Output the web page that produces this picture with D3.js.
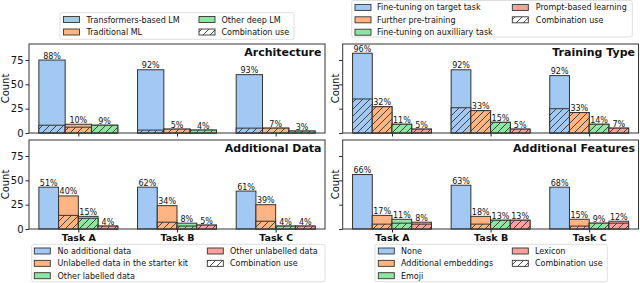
<!DOCTYPE html>
<html><head><meta charset="utf-8">
<script src="https://cdn.jsdelivr.net/npm/d3@7"></script>
<style>body{margin:0;background:#fff}svg{display:block}text{font-family:"DejaVu Sans",sans-serif;fill:#111}</style>
</head><body><svg id="c" width="640" height="283"></svg>
<script>
const tasks = ["Task A","Task B","Task C"];
const yTicks = [0,25,50,75];
const colors = ["#a1c9f4","#ffb482","#8de5a1","#ff9f9b"];

const archSeries = ["Transformers-based LM","Traditional ML","Other deep LM"];
const archTotal = [[75,65,60],[9,4,5],[8,3,2]];
const archCombo = [[8,3,5],[6,4,5],[8,3,2]];
const archPct = [["88%","92%","93%"],["10%","5%","7%"],["9%","4%","3%"]];

const trainSeries = ["Fine-tuning on target task","Further pre-training","Fine-tuning on auxilliary task","Prompt-based learning"];
const trainTotal = [[82,65,59],[27,23,21],[9,11,9],[4,4,5]];
const trainCombo = [[35,26,25],[27,23,21],[9,11,9],[4,4,5]];
const trainPct = [["96%","92%","92%"],["32%","33%","33%"],["11%","15%","14%"],["5%","5%","7%"]];

const dataSeries = ["No additional data","Unlabelled data in the starter kit","Other labelled data","Other unlabelled data"];
const dataTotal = [[43,43,39],[34,24,25],[13,6,3],[3,4,3]];
const dataCombo = [[0,0,0],[14,7,8],[11,3,3],[3,4,3]];
const dataPct = [["51%","62%","61%"],["40%","34%","39%"],["15%","8%","4%"],["4%","5%","4%"]];

const featSeries = ["None","Additional embeddings","Emoji","Lexicon"];
const featTotal = [[56,45,43],[14,13,10],[10,9,6],[7,9,8]];
const featCombo = [[0,0,0],[5,5,3],[6,9,6],[5,9,6]];
const featPct = [["66%","63%","68%"],["17%","18%","15%"],["11%","13%","9%"],["8%","13%","12%"]];

const comboLabel = "Combination use";

const svg = d3.select("#c");
const defs = svg.append("defs");
colors.concat(["#ffffff"]).forEach((c,i)=>{
  const p = defs.append("pattern").attr("id","h"+i).attr("patternUnits","userSpaceOnUse")
    .attr("width",7).attr("height",7);
  p.append("rect").attr("width",7).attr("height",7).attr("fill",c);
  p.append("path").attr("d","M-1,8 L8,-1 M-4.5,4.5 L4.5,-4.5 M2.5,11.5 L11.5,2.5")
    .attr("stroke","#222").attr("stroke-width",0.8);
});

function panel(cfg){
  const {x0,x1,y0,y1,series,total,combo,pct,title,showY,showX,labOff} = cfg;
  const g = svg.append("g");
  const x = d3.scaleLinear().domain([-0.5,2.5]).range([x0,x1]);
  const y = d3.scaleLinear().domain([0,91.5]).range([y1,y0]);
  const n = series.length, w = 0.8/n;
  const ya = g.append("g").attr("transform",`translate(${x0},0)`)
    .call(d3.axisLeft(y).tickValues(yTicks).tickSize(3.5).tickPadding(2).tickFormat(showY?d3.format("d"):""));
  ya.select(".domain").remove();
  ya.selectAll("line").attr("stroke","#222");
  ya.selectAll("text").style("font-size","10px").attr("fill","#111").style("font-family","DejaVu Sans");
  const xa = g.append("g").attr("transform",`translate(0,${y1})`)
    .call(d3.axisBottom(x).tickValues([0,1,2]).tickSize(3.5).tickPadding(2).tickFormat(showX?(d=>tasks[d]):""));
  xa.select(".domain").remove();
  xa.selectAll("line").attr("stroke","#222");
  xa.selectAll("text").style("font-size","9.5px").style("font-weight","bold").attr("fill","#111").style("font-family","DejaVu Sans");
  g.append("text").attr("transform",`translate(${x0-labOff},${(y0+y1)/2}) rotate(-90)`)
    .attr("text-anchor","middle").style("font-size","10px").text("Count");
  series.forEach((s,si)=>{
    tasks.forEach((t,ti)=>{
      const bx = x(ti-0.4+si*w), bw = x(w)-x(0);
      const tot = total[si][ti], cb = combo[si][ti];
      g.append("rect").attr("x",bx).attr("y",y(tot)).attr("width",bw).attr("height",y(0)-y(tot))
        .attr("fill",colors[si]).attr("stroke","#333").attr("stroke-width",1);
      if(cb>0){
        g.append("rect").attr("x",bx).attr("y",y(cb)).attr("width",bw).attr("height",y(0)-y(cb))
          .attr("fill",`url(#h${si})`).attr("stroke","#333").attr("stroke-width",1);
      }
      g.append("text").attr("x",bx+bw/2).attr("y",y(tot)-1.5).attr("text-anchor","middle")
        .style("font-size","8px").attr("fill","#222").text(pct[si][ti]);
    });
  });
  g.append("rect").attr("x",x0).attr("y",y0).attr("width",x1-x0).attr("height",y1-y0)
    .attr("fill","none").attr("stroke","#333").attr("stroke-width",1);
  g.append("text").attr("x",x1-3.5).attr("y",y0+11.8).attr("text-anchor","end")
    .style("font-size","11px").style("font-weight","bold").text(title);
}

function legend(cfg){
  const {bx0,bx1,by0,by1,cols,rows0,rowStep} = cfg;
  const g = svg.append("g");
  g.append("rect").attr("x",bx0).attr("y",by0).attr("width",bx1-bx0).attr("height",by1-by0)
    .attr("rx",2).attr("fill","#fff").attr("fill-opacity",0.85).attr("stroke","#d6d6d6").attr("stroke-width",0.8);
  cols.forEach(col=>{
    col.items.forEach((it,ri)=>{
      const cy = rows0 + ri*rowStep;
      g.append("rect").attr("x",col.px).attr("y",cy-3).attr("width",16).attr("height",6)
        .attr("fill",it.fill).attr("stroke","#333").attr("stroke-width",0.9);
      g.append("text").attr("x",col.tx).attr("y",cy+3).style("font-size","8px").attr("fill","#111").text(it.label);
    });
  });
}

panel({x0:29,x1:325,y0:44,y1:133,series:archSeries,total:archTotal,combo:archCombo,pct:archPct,title:"Architecture",showY:true,showX:false,labOff:20});
panel({x0:342.7,x1:638.5,y0:44,y1:133,series:trainSeries,total:trainTotal,combo:trainCombo,pct:trainPct,title:"Training Type",showY:false,showX:false,labOff:3.5});
panel({x0:29,x1:325,y0:140,y1:229,series:dataSeries,total:dataTotal,combo:dataCombo,pct:dataPct,title:"Additional Data",showY:true,showX:true,labOff:20});
panel({x0:342.7,x1:638.5,y0:140,y1:229,series:featSeries,total:featTotal,combo:featCombo,pct:featPct,title:"Additional Features",showY:false,showX:true,labOff:3.5});

const H = "url(#h4)";
legend({bx0:60,bx1:294,by0:12.7,by1:39.3,rows0:19.5,rowStep:12.5,cols:[
  {px:63.5,tx:86.5,items:[{fill:colors[0],label:archSeries[0]},{fill:colors[1],label:archSeries[1]}]},
  {px:199,tx:221.5,items:[{fill:colors[2],label:archSeries[2]},{fill:H,label:comboLabel}]}]});
legend({bx0:351.7,bx1:632.3,by0:0.5,by1:37,rows0:7.4,rowStep:12.4,cols:[
  {px:355,tx:377,items:[{fill:colors[0],label:trainSeries[0]},{fill:colors[1],label:trainSeries[1]},{fill:colors[2],label:trainSeries[2]}]},
  {px:512.3,tx:535.8,items:[{fill:colors[3],label:trainSeries[3]},{fill:H,label:comboLabel}]}]});
legend({bx0:31.7,bx1:325,by0:244.3,by1:281.7,rows0:251,rowStep:12.35,cols:[
  {px:34.3,tx:57.5,items:[{fill:colors[0],label:dataSeries[0]},{fill:colors[1],label:dataSeries[1]},{fill:colors[2],label:dataSeries[2]}]},
  {px:207.3,tx:230,items:[{fill:colors[3],label:dataSeries[3]},{fill:H,label:comboLabel}]}]});
legend({bx0:375,bx1:607.3,by0:244.3,by1:281.7,rows0:251,rowStep:12.35,cols:[
  {px:378.3,tx:401,items:[{fill:colors[0],label:featSeries[0]},{fill:colors[1],label:featSeries[1]},{fill:colors[2],label:featSeries[2]}]},
  {px:512.3,tx:535,items:[{fill:colors[3],label:featSeries[3]},{fill:H,label:comboLabel}]}]});
</script></body></html>
